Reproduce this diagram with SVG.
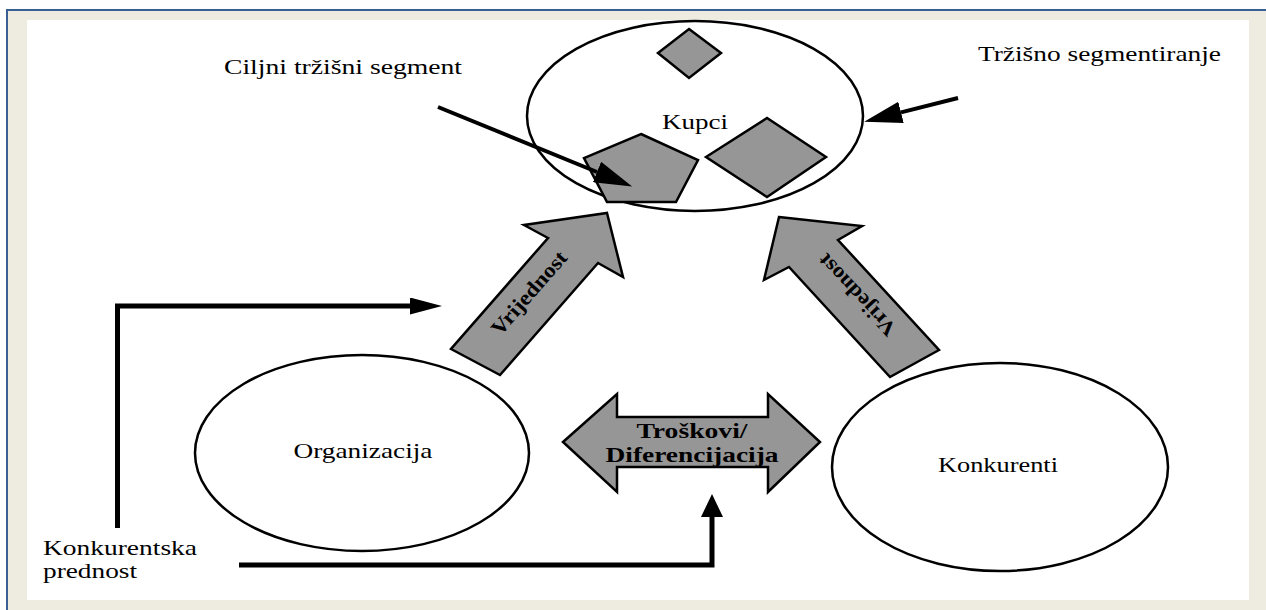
<svg xmlns="http://www.w3.org/2000/svg" width="1266" height="610" viewBox="0 0 1266 610">
  <style>
    .lbl { font-family: "Liberation Serif", "Times New Roman", serif; font-size: 22px; fill: #000; }
    .bold { font-family: "Liberation Serif", "Times New Roman", serif; font-size: 21px; font-weight: bold; fill: #000; }
    .node { fill: #fff; stroke: #000; stroke-width: 2.5; }
    .shape { fill: #969696; stroke: #000; stroke-width: 2.5; stroke-linejoin: miter; }
    .wire { fill: none; stroke: #000; stroke-linejoin: miter; }
  </style>
  <defs>
    <!-- arrowheads: base at refX=0, tip extends forward -->
    <marker id="headLong" markerUnits="userSpaceOnUse" viewBox="0 0 38 22" markerWidth="38" markerHeight="22" refX="0" refY="11" orient="auto">
      <path d="M0,0 L38,11 L0,22 Z" fill="#000"/>
    </marker>
    <marker id="headSide" markerUnits="userSpaceOnUse" viewBox="0 0 32 17" markerWidth="32" markerHeight="17" refX="0" refY="8.5" orient="auto">
      <path d="M0,0 L32,8.5 L0,17 Z" fill="#000"/>
    </marker>
    <marker id="headUp" markerUnits="userSpaceOnUse" viewBox="0 0 23 22" markerWidth="23" markerHeight="22" refX="0" refY="11" orient="auto">
      <path d="M0,0 L23,11 L0,22 Z" fill="#000"/>
    </marker>
  </defs>

  <!-- page frame -->
  <rect x="0" y="0" width="1266" height="610" fill="#fff"/>
  <rect x="7" y="10" width="1259" height="600" fill="#eeece1"/>
  <rect x="27" y="20" width="1222" height="580" fill="#fff"/>
  <path d="M7,610 V10 H1266" fill="none" stroke="#3a5f92" stroke-width="2"/>

  <!-- customers -->
  <g id="kupci">
    <ellipse class="node" cx="695" cy="116" rx="168" ry="95"/>
    <polygon class="shape" points="689,29 721,53 689,78 658,53"/>
    <polygon class="shape" points="706,157 767,118 826,157 767,197"/>
    <polygon class="shape" points="641,134 698,160 676,202 607,202 584,158"/>
    <text class="lbl" x="695" y="129" text-anchor="middle" textLength="66" lengthAdjust="spacingAndGlyphs">Kupci</text>
  </g>

  <g id="organizacija">
    <ellipse class="node" cx="362" cy="453" rx="167" ry="98"/>
    <text class="lbl" x="363" y="458" text-anchor="middle" textLength="139" lengthAdjust="spacingAndGlyphs">Organizacija</text>
  </g>

  <g id="konkurenti">
    <ellipse class="node" cx="1000" cy="467" rx="168" ry="104"/>
    <text class="lbl" x="998" y="472" text-anchor="middle" textLength="120" lengthAdjust="spacingAndGlyphs">Konkurenti</text>
  </g>

  <!-- value arrows -->
  <g id="vrijednost-org">
    <polygon class="shape" points="607,213 623,277 598,263 500,375 451,349 548,238 524,225"/>
    <text class="bold" transform="translate(529,293) rotate(-49)" x="0" y="7" text-anchor="middle" textLength="104" lengthAdjust="spacingAndGlyphs">Vrijednost</text>
  </g>

  <g id="vrijednost-konk">
    <polygon class="shape" points="779,217 862,226 838,240 939,350 890,377 789,267 764,280"/>
    <text class="bold" transform="translate(857,295) rotate(-133)" x="0" y="7" text-anchor="middle" textLength="104" lengthAdjust="spacingAndGlyphs">Vrijednost</text>
  </g>

  <g id="troskovi">
    <polygon class="shape" points="563,442 617,394 617,417 768,417 768,394 820,442 768,492 768,467 617,467 617,492"/>
    <text class="bold" x="692" y="438" text-anchor="middle" textLength="111" lengthAdjust="spacingAndGlyphs">Troškovi/</text>
    <text class="bold" x="692" y="462" text-anchor="middle" textLength="173" lengthAdjust="spacingAndGlyphs">Diferencijacija</text>
  </g>

  <!-- free labels -->
  <g id="ciljni">
    <text class="lbl" x="224" y="74" textLength="238" lengthAdjust="spacingAndGlyphs">Ciljni tržišni segment</text>
  </g>
  <g id="segmentiranje">
    <text class="lbl" x="978" y="61" textLength="243" lengthAdjust="spacingAndGlyphs">Tržišno segmentiranje</text>
  </g>
  <g id="prednost">
    <text class="lbl" x="43" y="555" textLength="154" lengthAdjust="spacingAndGlyphs">Konkurentska</text>
    <text class="lbl" x="43" y="578" textLength="94" lengthAdjust="spacingAndGlyphs">prednost</text>
  </g>

  <!-- connectors -->
  <g id="connectors">
    <line class="wire" x1="438" y1="107" x2="597" y2="172" stroke-width="4" marker-end="url(#headLong)"/>
    <line class="wire" x1="958" y1="98" x2="901" y2="112.4" stroke-width="4" marker-end="url(#headLong)"/>
    <path class="wire" d="M117.5,528 V306 H410" stroke-width="5" marker-end="url(#headSide)"/>
    <path class="wire" d="M239,565 H712 V517" stroke-width="5" marker-end="url(#headUp)"/>
  </g>
</svg>
